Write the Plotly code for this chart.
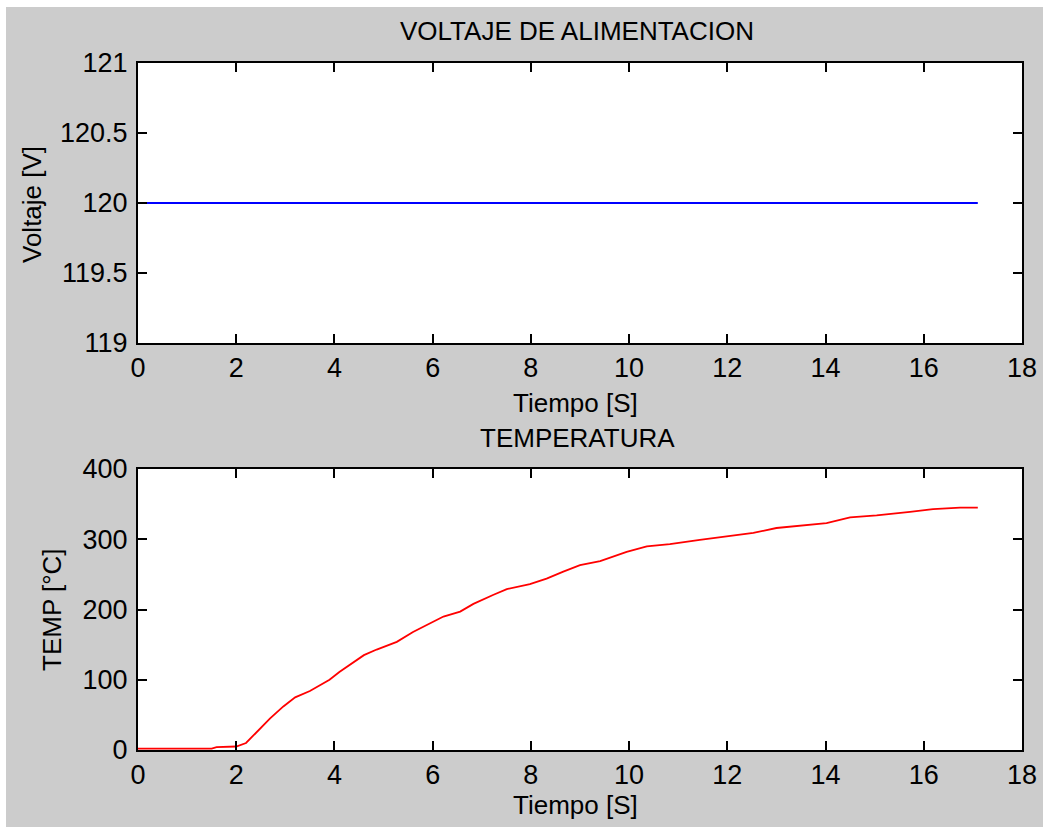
import plotly.graph_objects as go

# ---- data ----
t_volt = [0, 17.1]
volt = [120, 120]

t_temp = [0, 1.5, 1.6, 2.0, 2.2, 2.42, 2.69, 2.96, 3.2, 3.5, 3.9, 4.1, 4.4, 4.6, 4.86,
          5.27, 5.6, 5.95, 6.22, 6.56, 6.83, 7.24, 7.51, 7.98, 8.32, 8.66, 9.0, 9.41,
          9.95, 10.36, 10.83, 11.44, 11.99, 12.53, 13.0, 13.48, 14.02, 14.5, 15.04,
          15.72, 16.19, 16.74, 17.1]
temp = [2, 2, 4, 5, 10, 26, 45, 62, 75, 84, 100, 111, 126, 135, 143,
        154, 168, 180, 190, 197, 208, 221, 229, 236, 244, 254, 263, 269,
        282, 290, 293, 299, 304, 309, 316, 319, 323, 331, 334,
        339, 343, 345, 345]

x_ticks = [0, 2, 4, 6, 8, 10, 12, 14, 16, 18]
volt_ticks = [119, 119.5, 120, 120.5, 121]
volt_tick_text = ["119", "119.5", "120", "120.5", "121"]
temp_ticks = [0, 100, 200, 300, 400]

# ---- layout geometry (pixels) ----
W, H = 1043, 827
L, R, T, B = 138, 21, 63, 77
PW, PH = W - L - R, H - T - B


def px(x):
    return (x - L) / PW


def py(y):
    return 1 - (y - T) / PH


FONT = "Liberation Sans, Arial, sans-serif"
FS = 26
TFS = 27

fig = go.Figure()
fig.add_trace(go.Scatter(x=t_volt, y=volt, mode="lines",
                         line=dict(color="#0000ff", width=1.8),
                         xaxis="x", yaxis="y", showlegend=False))
fig.add_trace(go.Scatter(x=t_temp, y=temp, mode="lines",
                         line=dict(color="#ff0000", width=1.8),
                         xaxis="x2", yaxis="y2", showlegend=False))

axis_common = dict(showline=True, linecolor="black", linewidth=2, mirror="ticks",
                   ticks="inside", ticklen=9, tickwidth=1.5, tickcolor="black",
                   showgrid=False, zeroline=False, automargin=False,
                   tickfont=dict(family=FONT, size=TFS, color="black"))

fig.update_layout(
    width=W, height=H,
    margin=dict(l=L, r=R, t=T, b=B, autoexpand=False),
    paper_bgcolor="#cccccc", plot_bgcolor="white",
    font=dict(family=FONT, size=FS, color="black"),
    xaxis=dict(domain=[0, 1], range=[0, 18], tickvals=x_ticks, anchor="y",
               ticklabelstandoff=0, **axis_common),
    yaxis=dict(domain=[py(343), 1], range=[119, 121], tickvals=volt_ticks,
               ticktext=volt_tick_text, anchor="x", ticklabelstandoff=3, **axis_common),
    xaxis2=dict(domain=[0, 1], range=[0, 18], tickvals=x_ticks, anchor="y2",
                ticklabelstandoff=0, **axis_common),
    yaxis2=dict(domain=[0, py(469)], range=[0, 400], tickvals=temp_ticks,
                anchor="x2", ticklabelstandoff=3, **axis_common),
    shapes=[
        dict(type="rect", xref="paper", yref="paper", x0=px(0), x1=px(6),
             y0=py(H), y1=py(0), fillcolor="white", line=dict(width=0), layer="below"),
        dict(type="rect", xref="paper", yref="paper", x0=px(0), x1=px(W),
             y0=py(7), y1=py(0), fillcolor="white", line=dict(width=0), layer="below"),
    ],
)

ann = [
    ("VOLTAJE DE ALIMENTACION", 577, 31, 0),
    ("Tiempo [S]", 575, 403, 0),
    ("TEMPERATURA", 577, 438, 0),
    ("Tiempo [S]", 575, 805, 0),
    ("Voltaje [V]", 32, 205, -90),
    ("TEMP [°C]", 52, 610, -90),
]
for text, x, y, ang in ann:
    fig.add_annotation(text=text, xref="paper", yref="paper", x=px(x), y=py(y),
                       xanchor="center", yanchor="middle", showarrow=False,
                       textangle=ang, font=dict(family=FONT, size=FS, color="black"))

fig.write_html("out.html")
